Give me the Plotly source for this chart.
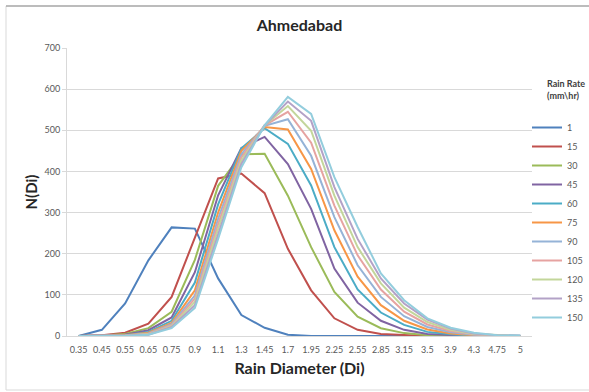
import plotly.graph_objects as go

diameters = ["0.35", "0.45", "0.55", "0.65", "0.75", "0.9", "1.1", "1.3", "1.45", "1.7",
             "1.95", "2.25", "2.55", "2.85", "3.15", "3.5", "3.9", "4.3", "4.75", "5"]

r1 = [0, 15, 79, 184, 264, 261, 140, 51, 20, 3, 0, 0, 0, 0, 0, 0, 0, 0, 0, 0]
r15 = [0, 2, 8, 30, 95, 240, 383, 395, 347, 212, 111, 43, 15, 5, 2, 0, 0, 0, 0, 0]
r30 = [0, 1, 5, 19, 59, 185, 365, 442, 443, 341, 216, 107, 47, 19, 7, 2, 1, 0, 0, 0]
r45 = [0, 1, 3, 14, 45, 155, 342, 457, 484, 418, 309, 164, 81, 37, 15, 5, 2, 0, 0, 0]
r60 = [0, 0, 2, 10, 37, 130, 320, 456, 505, 467, 366, 216, 113, 57, 27, 10, 4, 1, 0, 0]
r75 = [0, 0, 2, 8, 32, 111, 300, 450, 508, 502, 406, 257, 144, 75, 37, 16, 6, 2, 0, 0]
r90 = [0, 0, 1, 6, 29, 99, 285, 442, 511, 527, 438, 289, 172, 95, 48, 22, 9, 3, 1, 0]
r105 = [0, 0, 1, 5, 26, 91, 272, 434, 512, 545, 470, 317, 196, 113, 59, 28, 12, 4, 1, 0]
r120 = [0, 0, 1, 4, 24, 83, 260, 426, 512, 559, 499, 341, 216, 128, 69, 34, 15, 5, 2, 0]
r135 = [0, 0, 1, 3, 22, 75, 248, 418, 512, 570, 523, 362, 236, 140, 79, 40, 18, 6, 2, 1]
r150 = [0, 0, 0, 3, 19, 68, 236, 410, 512, 581, 540, 386, 265, 152, 87, 43, 20, 8, 2, 1]

rain_rates = ["1", "15", "30", "45", "60", "75", "90", "105", "120", "135", "150"]
series = [r1, r15, r30, r45, r60, r75, r90, r105, r120, r135, r150]
colors = ["#4F81BD", "#C0504D", "#9BBB59", "#8064A2", "#4BACC6", "#F79646",
          "#95B3D7", "#E6A3A1", "#C3D69B", "#B3A2C7", "#93CDDD"]

W, H = 589, 392
L, R, T, B = 67, 57, 48, 56

fig = go.Figure()
for name, vals, col in zip(rain_rates, series, colors):
    fig.add_trace(go.Scatter(x=diameters, y=vals, name=name, mode="lines",
                             line=dict(color=col, width=2)))

font_family = "Lato, 'Open Sans', sans-serif"
fig.update_layout(
    width=W, height=H,
    margin=dict(l=L, r=R, t=T, b=B, autoexpand=False),
    paper_bgcolor="white", plot_bgcolor="white",
    font=dict(family=font_family, color="#595959", size=9),
    title=dict(text="<b>Ahmedabad</b>", x=0.5, xref="paper", xanchor="center",
               y=1 - 25 / H, yref="container", yanchor="middle",
               font=dict(size=16, color="#262626", family=font_family)),
    xaxis=dict(type="category", range=[-0.5, 19.5], showgrid=False,
               showline=True, linecolor="#d9d9d9", linewidth=1,
               ticks="outside", ticklen=5, tickcolor="rgba(0,0,0,0)",
               tickfont=dict(size=9, color="#595959"), tickangle=0,
               title=dict(text="<b>Rain Diameter (Di)</b>", standoff=9,
                          font=dict(size=16, color="#262626"))),
    yaxis=dict(range=[0, 700], dtick=100, showgrid=True, gridcolor="#d9d9d9",
               gridwidth=1, showline=True, linecolor="#d9d9d9", zeroline=False,
               ticks="outside", ticklen=4, tickcolor="#d9d9d9",
               tickfont=dict(size=9, color="#595959"),
               title=dict(text="<b>N(Di)</b>", standoff=3,
                          font=dict(size=15, color="#262626"))),
    legend=dict(xref="container", yref="container",
                x=527 / W, xanchor="left", y=1 - 113 / H, yanchor="top",
                bgcolor="rgba(0,0,0,0)", font=dict(size=9, color="#595959"),
                itemwidth=30, tracegroupgap=0, maxheight=380),
    showlegend=True,
)

pw, ph = W - L - R, H - T - B
def px_x(v):
    return (v - L) / pw
def px_y(v):
    return 1 - (v - T) / ph

fig.add_annotation(text="<b>Rain Rate<br>(mm\\hr)</b>", xref="paper", yref="paper",
                   x=px_x(545), y=px_y(76), xanchor="left", yanchor="top",
                   align="left", showarrow=False,
                   font=dict(size=9, color="#404040", family=font_family))

fig.add_shape(type="rect", xref="paper", yref="paper",
              x0=px_x(6), x1=px_x(600), y0=px_y(390), y1=px_y(6),
              line=dict(color="#d9d9d9", width=1), layer="below")
fig.add_shape(type="line", xref="paper", yref="paper",
              x0=px_x(6), x1=px_x(600), y0=px_y(6), y1=px_y(6),
              line=dict(color="#8c8c8c", width=1))

fig.write_html("out.html")
